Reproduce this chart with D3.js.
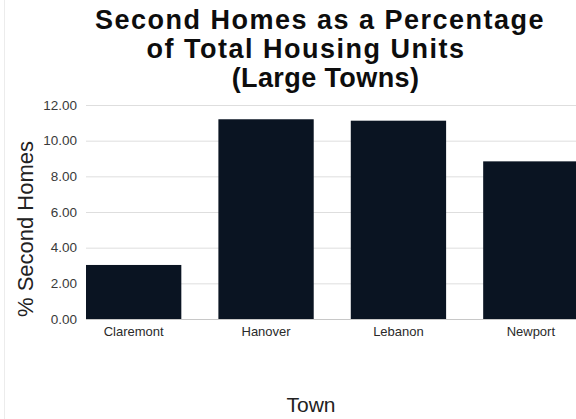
<!DOCTYPE html>
<html>
<head>
<meta charset="utf-8">
<script src="https://cdn.jsdelivr.net/npm/d3@7"></script>
<style>
  html, body { margin: 0; padding: 0; background: #fff; }
  svg { display: block; font-family: "Liberation Sans", Arial, sans-serif; }
</style>
</head>
<body>
<svg id="chart" width="576" height="419"></svg>
<script>
// Towns and their share of second homes (% of total housing units)
const towns = ["Claremont", "Hanover", "Lebanon", "Newport"];
const secondHomePct = [3.03, 11.2, 11.12, 8.84];
const yTicks = [0, 2, 4, 6, 8, 10, 12];
const titleLines = ["Second Homes as a Percentage", "of Total Housing Units", "(Large Towns)"];

const svg = d3.select("#chart");

const plot = { left: 86, right: 578.5, top: 105, bottom: 319 };

const x = d3.scaleBand()
  .domain(towns)
  .range([plot.left, plot.right])
  .paddingInner(0.28)
  .paddingOuter(0);

const y = d3.scaleLinear()
  .domain([0, 12])
  .range([plot.bottom, plot.top]);

// faint frame line on the left edge
svg.append("line")
  .attr("x1", 4.5).attr("x2", 4.5)
  .attr("y1", 0).attr("y2", 419)
  .attr("stroke", "#ececec").attr("stroke-width", 1);

// horizontal gridlines + value labels
const yAxis = d3.axisLeft(y)
  .tickValues(yTicks)
  .tickFormat(d3.format(".2f"))
  .tickSize(-(plot.right - plot.left))
  .tickPadding(9);

const gy = svg.append("g")
  .attr("transform", `translate(${plot.left},0)`)
  .call(yAxis);
gy.select(".domain").remove();
gy.selectAll(".tick line")
  .attr("stroke", d => d === 0 ? "#c8c8c8" : "#dedede")
  .attr("stroke-width", 1);
gy.selectAll(".tick text")
  .attr("fill", "#3a3a3a")
  .style("font-size", "13.5px");

// bars
svg.append("g")
  .selectAll("rect")
  .data(towns.map((t, i) => ({ town: t, value: secondHomePct[i] })))
  .join("rect")
  .attr("x", d => x(d.town))
  .attr("y", d => y(d.value))
  .attr("width", x.bandwidth())
  .attr("height", d => y(0) - y(d.value))
  .attr("fill", "#0a1422");

// category labels
const xAxis = d3.axisBottom(x).tickSize(0).tickPadding(8);
const gx = svg.append("g")
  .attr("transform", `translate(0,${plot.bottom})`)
  .call(xAxis);
gx.select(".domain").remove();
gx.selectAll(".tick text")
  .attr("fill", "#2a2a2a")
  .style("font-size", "13px");

// title
const titleX = [320, 306, 325.5];
const titleY = [29, 58, 87];
const titleSpacing = [1.5, 1.5, 0.4];
svg.append("g")
  .selectAll("text")
  .data(titleLines)
  .join("text")
  .attr("x", (d, i) => titleX[i])
  .attr("y", (d, i) => titleY[i])
  .attr("text-anchor", "middle")
  .style("font-size", "27px")
  .style("font-weight", "bold")
  .style("letter-spacing", (d, i) => titleSpacing[i] + "px")
  .attr("fill", "#0d0d0d")
  .text(d => d);

// axis titles
svg.append("text")
  .attr("transform", "translate(33,229) rotate(-90)")
  .attr("text-anchor", "middle")
  .style("font-size", "22px")
  .attr("fill", "#222")
  .text("% Second Homes");

svg.append("text")
  .attr("x", 311)
  .attr("y", 412)
  .attr("text-anchor", "middle")
  .style("font-size", "21px")
  .attr("fill", "#222")
  .text("Town");
</script>
</body>
</html>
